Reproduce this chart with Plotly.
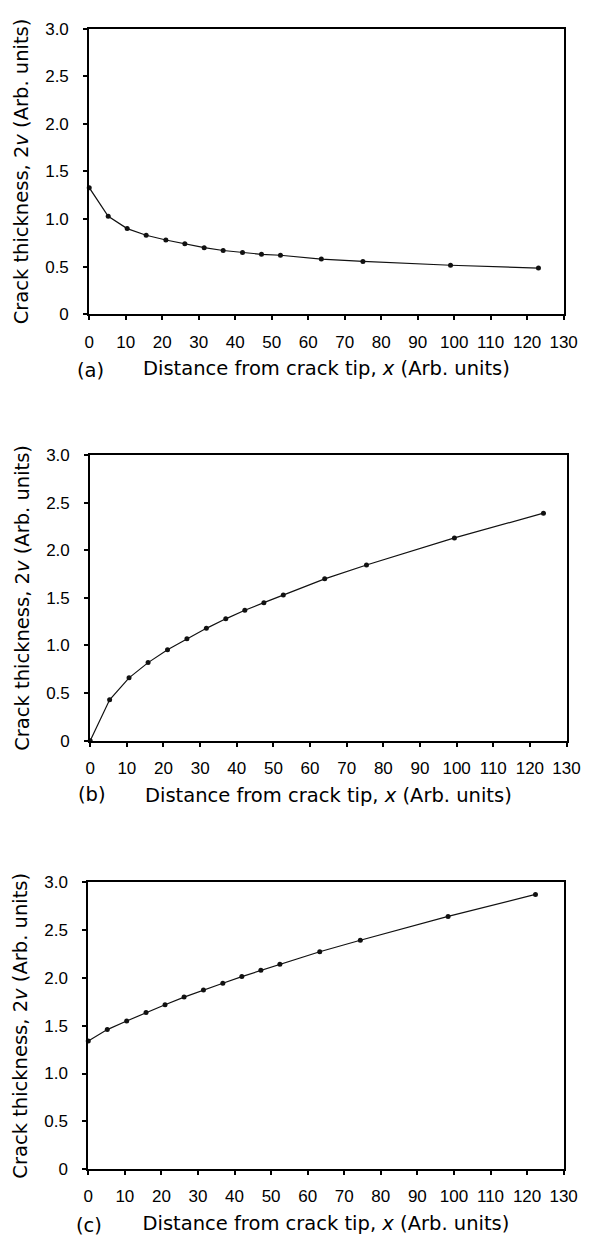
import plotly.graph_objects as go
from plotly.subplots import make_subplots

# ---- data ----
x_a = [0, 5.2, 10.4, 15.6, 21.0, 26.2, 31.5, 36.7, 42.0, 47.2, 52.4, 63.6, 75.0, 99.0, 123.1]
y_a = [1.33, 1.03, 0.90, 0.83, 0.78, 0.74, 0.70, 0.67, 0.65, 0.63, 0.62, 0.58, 0.555, 0.515, 0.485]

x_b = [0, 5.3, 10.6, 15.8, 21.1, 26.4, 31.7, 37.0, 42.2, 47.4, 52.7, 64.0, 75.4, 99.4, 123.7]
y_b = [0, 0.43, 0.66, 0.82, 0.955, 1.07, 1.18, 1.28, 1.37, 1.45, 1.53, 1.70, 1.845, 2.13, 2.39]

x_c = [0, 5.2, 10.5, 15.8, 21.0, 26.2, 31.5, 36.8, 42.0, 47.2, 52.4, 63.3, 74.4, 98.4, 122.3]
y_c = [1.34, 1.46, 1.55, 1.64, 1.72, 1.80, 1.875, 1.945, 2.015, 2.08, 2.145, 2.275, 2.395, 2.645, 2.875]

panel_labels = ["(a)", "(b)", "(c)"]
x_tickvals = [0, 10, 20, 30, 40, 50, 60, 70, 80, 90, 100, 110, 120, 130]
y_tickvals = [0, 0.5, 1.0, 1.5, 2.0, 2.5, 3.0]
y_ticktext = ["0", "0.5", "1.0", "1.5", "2.0", "2.5", "3.0"]
x_title = "Distance from crack tip, <i>x</i> (Arb. units)"
y_title = "Crack thickness, 2<i>v</i> (Arb. units)"

W, H = 597, 1247
# pixel boxes of the three plot areas (left, right, top, bottom)
boxes = [(87, 577, 20, 310), (88, 580, 453, 743), (86, 577, 887, 1178)]
label_pos = [(88, 367), (90, 798), (87, 1235)]

fig = make_subplots(rows=3, cols=1)
series = [(x_a, y_a), (x_b, y_b), (x_c, y_c)]
for i, (xs, ys) in enumerate(series):
    fig.add_trace(go.Scatter(x=xs, y=ys, mode="lines+markers",
                             line=dict(color="#111111", width=1.2),
                             marker=dict(color="#111111", size=5),
                             cliponaxis=False, showlegend=False), row=i + 1, col=1)

tickfont = dict(family="Liberation Sans, Arial, sans-serif", size=17, color="black")
titlefont = dict(family="DejaVu Sans, sans-serif", size=19.5, color="black")

for i, (l, r, t, b) in enumerate(boxes):
    xa = "xaxis" if i == 0 else f"xaxis{i+1}"
    ya = "yaxis" if i == 0 else f"yaxis{i+1}"
    fig.layout[xa].update(domain=[l / W, r / W], range=[0, 130], tickmode="array",
                          tickvals=x_tickvals, ticks="outside", ticklen=4, tickwidth=1.5,
                          tickcolor="black", showline=True, linewidth=2, linecolor="black",
                          mirror=True, showgrid=False, zeroline=False, tickfont=tickfont,
                          ticklabelstandoff=7,
                          title=dict(text=x_title, font=titlefont, standoff=11))
    fig.layout[ya].update(domain=[1 - b / H, 1 - t / H], range=[0, 3], tickmode="array",
                          tickvals=y_tickvals, ticktext=y_ticktext, ticks="outside",
                          ticklen=4, tickwidth=1.5, tickcolor="black", showline=True,
                          linewidth=2, linecolor="black", mirror=True, showgrid=False,
                          zeroline=False, tickfont=tickfont, ticklabelstandoff=11,
                          title=dict(text=y_title, font=titlefont, standoff=11))
    lx, ly = label_pos[i]
    fig.add_annotation(text=panel_labels[i], x=lx / W, y=1 - ly / H, xref="paper",
                       yref="paper", showarrow=False, font=titlefont,
                       xanchor="center", yanchor="middle")

fig.update_layout(width=W, height=H, margin=dict(l=0, r=0, t=0, b=0),
                  plot_bgcolor="white", paper_bgcolor="white")
fig.write_html("out.html")
